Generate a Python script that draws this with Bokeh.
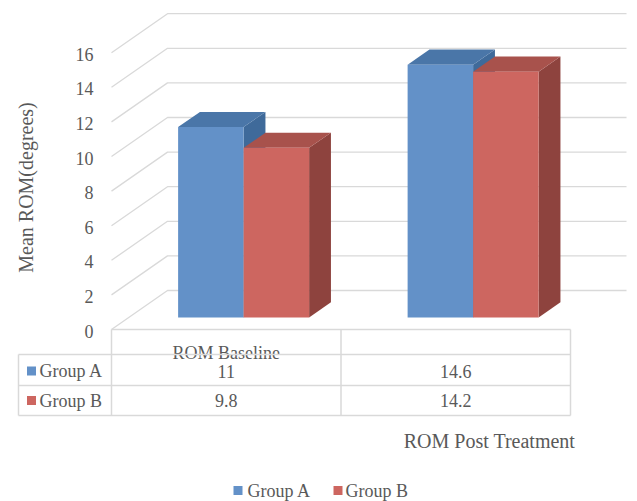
import math

from bokeh.plotting import figure
from bokeh.models import Range1d
from bokeh.core.properties import value
from bokeh.embed import file_html
from bokeh.resources import INLINE

# ---- data -------------------------------------------------------------
categories = ["ROM Baseline", "ROM Post Treatment"]
series_names = ["Group A", "Group B"]
group_a = [11, 14.6]
group_b = [9.8, 14.2]
y_ticks = [0, 2, 4, 6, 8, 10, 12, 14, 16]
y_title = "Mean ROM(degrees)"

# ---- colours ------------------------------------------------------------
FRONT = ["#6391C8", "#CD6660"]
TOP = ["#4A76A8", "#A8524C"]
SIDE = ["#3F6A9A", "#8E433E"]
GRID = "#D9D9D9"
TEXT = "#595959"
FONT = value("'Liberation Serif', 'DejaVu Serif', serif")

# ---- page geometry (front plane of the 3-D box) --------------------------
W, H = 637, 501
PX0 = 111.0      # left edge of the first category column, px
PX_CAT = 229.5   # width of one category column, px
PY0 = 329.0      # value 0 on the front plane, px from top
PY_UNIT = 17.3   # px per degree


def xd(px):
    return (px - PX0) / PX_CAT


def yd(py):
    return (PY0 - py) / PY_UNIT


DX = 56.0 / PX_CAT      # depth of the box along x (category units)
DY = 39.0 / PY_UNIT     # depth of the box along y (value units)
D0, D1 = 0.31, 0.70     # front / back depth of the columns
BAR_W = 65.5 / PX_CAT   # width of one column

p = figure(width=W, height=H,
           x_range=Range1d(xd(0), xd(W)), y_range=Range1d(yd(H), yd(0)),
           x_axis_type=None, y_axis_type=None,
           output_backend="svg", toolbar_location=None, min_border=0)
p.grid.visible = False
p.outline_line_color = None
p.background_fill_color = "white"
p.border_fill_color = "white"

n_cat = len(categories)

# ---- walls: side-wall diagonals and back-wall gridlines -------------------
for v in y_ticks:
    p.line([0, DX, n_cat + DX], [v, v + DY, v + DY], line_color=GRID, line_width=1.3)

# ---- 3-D columns ----------------------------------------------------------
for i in range(n_cat):
    center = i + 0.5
    for s, vals in enumerate([group_a, group_b]):
        v = vals[i]
        l = center - BAR_W + s * BAR_W
        r = l + BAR_W
        fx0, fx1 = DX * D0, DX * D1
        fy0, fy1 = DY * D0, DY * D1
        side_x = [r + fx0, r + fx1, r + fx1, r + fx0]
        side_y = [fy0, fy1, v + fy1, v + fy0]
        top_x = [l + fx0, r + fx0, r + fx1, l + fx1]
        top_y = [v + fy0, v + fy0, v + fy1, v + fy1]
        front_x = [l + fx0, r + fx0, r + fx0, l + fx0]
        front_y = [fy0, fy0, v + fy0, v + fy0]
        p.patches([side_x, top_x, front_x], [side_y, top_y, front_y],
                  fill_color=[SIDE[s], TOP[s], FRONT[s]], line_color=None)

# ---- value axis labels ----------------------------------------------------
p.text(x=[xd(93)] * len(y_ticks), y=y_ticks, text=[str(t) for t in y_ticks],
       text_font=FONT, text_font_size="18px", text_color=TEXT,
       text_align="right", text_baseline="middle", y_offset=1.5)
p.text(x=[xd(25)], y=[yd(187)], text=[y_title], angle=math.pi / 2,
       text_font=FONT, text_font_size="20px", text_color=TEXT,
       text_align="center", text_baseline="middle")

# ---- data table -----------------------------------------------------------
row_top, row_a, row_b = yd(354), yd(385), yd(415)
key_left = xd(18)
seg_x0, seg_y0, seg_x1, seg_y1 = [], [], [], []
# top edge of the header row (front edge of the floor)
seg_x0.append(0); seg_y0.append(0); seg_x1.append(n_cat); seg_y1.append(0)
# horizontal rules of the series rows
for yy in [row_top, row_a, row_b]:
    seg_x0.append(key_left); seg_y0.append(yy); seg_x1.append(n_cat); seg_y1.append(yy)
# column rules
for c in range(n_cat + 1):
    seg_x0.append(c); seg_y0.append(0); seg_x1.append(c); seg_y1.append(row_b)
seg_x0.append(key_left); seg_y0.append(row_top); seg_x1.append(key_left); seg_y1.append(row_b)

# category headers
p.text(x=[0.5], y=[yd(352.5)], text=[categories[0]],
       text_font=FONT, text_font_size="18px", text_color=TEXT,
       text_align="center", text_baseline="middle")
p.text(x=[xd(489)], y=[yd(440)], text=[categories[1]],
       text_font=FONT, text_font_size="20px", text_color=TEXT,
       text_align="center", text_baseline="middle")

p.segment(seg_x0, seg_y0, seg_x1, seg_y1, line_color=GRID, line_width=1.5)

# series rows: key, name, values
row_y = [yd(370.5), yd(400)]
for s, vals in enumerate([group_a, group_b]):
    p.scatter([xd(31)], [row_y[s]], marker="square", size=9,
              fill_color=FRONT[s], line_color=None)
    p.text(x=[xd(39)], y=[row_y[s]], text=[series_names[s]],
           text_font=FONT, text_font_size="18px", text_color=TEXT,
           text_align="left", text_baseline="middle")
    p.text(x=[i + 0.5 for i in range(n_cat)], y=[row_y[s]] * n_cat,
           text=[f"{v:g}" for v in vals],
           text_font=FONT, text_font_size="18px", text_color=TEXT,
           text_align="center", text_baseline="middle")

# ---- legend ---------------------------------------------------------------
for s, (kx, tx) in enumerate([(237.5, 247), (337.5, 345)]):
    p.scatter([xd(kx)], [yd(490)], marker="square", size=9,
              fill_color=FRONT[s], line_color=None)
    p.text(x=[xd(tx)], y=[yd(490)], text=[series_names[s]],
           text_font=FONT, text_font_size="18px", text_color=TEXT,
           text_align="left", text_baseline="middle")

open("out.html", "w").write(file_html(p, INLINE))
